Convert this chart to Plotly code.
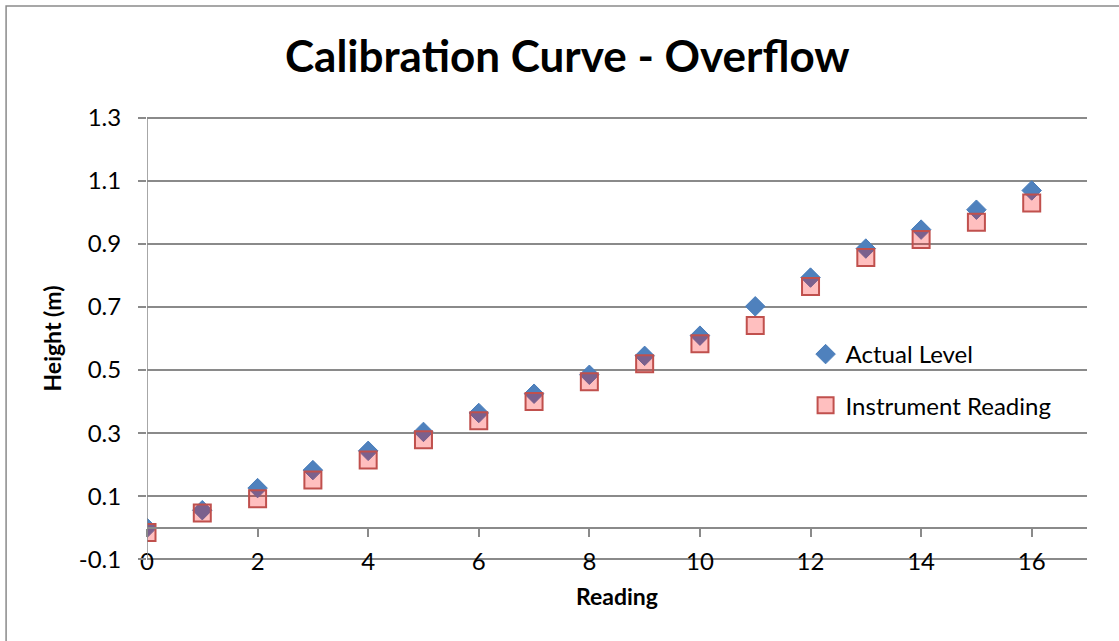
import plotly.graph_objects as go

# ---- data ----
readings = list(range(17))
actual_level = [0.000, 0.056, 0.126, 0.183, 0.244, 0.304, 0.364, 0.425, 0.485,
                0.545, 0.609, 0.702, 0.793, 0.885, 0.945, 1.008, 1.069]
instrument_reading = [-0.015, 0.047, 0.092, 0.152, 0.215, 0.279, 0.339, 0.400, 0.463,
                      0.520, 0.583, 0.641, 0.765, 0.857, 0.914, 0.968, 1.029]

y_ticks = [-0.1, 0.1, 0.3, 0.5, 0.7, 0.9, 1.1, 1.3]
y_tick_labels = ["-0.1", "0.1", "0.3", "0.5", "0.7", "0.9", "1.1", "1.3"]
x_ticks = [0, 2, 4, 6, 8, 10, 12, 14, 16]
x_tick_labels = ["0", "2", "4", "6", "8", "10", "12", "14", "16"]

FONT = "Lato"
GRID = "#8a8a8a"

fig = go.Figure()
fig.add_trace(go.Scatter(
    x=readings, y=actual_level, mode="markers", name="Actual Level",
    marker=dict(symbol="diamond", size=15, color="#4F81BD",
                line=dict(color="#4A7EBB", width=1)),
    legendgroup="a",
))
fig.add_trace(go.Scatter(
    x=readings, y=instrument_reading, mode="markers", name="Instrument Reading",
    marker=dict(symbol="square", size=17, color="rgba(255,0,0,0.25)",
                line=dict(color="#C0504D", width=2)),
    legendgroup="b",
))
# invisible trace carrying the axis line drawn at y = 0
fig.add_trace(go.Scatter(x=[0, 17], y=[0, 0], xaxis="x2", mode="lines",
                         line=dict(width=0), hoverinfo="skip", showlegend=False))

Y_RANGE = [-0.105, 1.305]
T, B = 116, 80
plot_h = 641 - T - B
frac0 = (0 - Y_RANGE[0]) / (Y_RANGE[1] - Y_RANGE[0])

def py(pix):
    """pixel row -> paper fraction"""
    return (641 - B - pix) / plot_h

fig.update_layout(
    width=1119, height=641,
    margin=dict(l=147, r=32, t=T, b=B),
    paper_bgcolor="white", plot_bgcolor="white",
    font=dict(family=FONT, size=24, color="black"),
    title=dict(text="Calibration Curve - Overflow", x=0.507, xref="container",
               xanchor="center", y=1 - 57 / 641, yanchor="middle",
               font=dict(family=FONT, size=44, weight="bold", color="black")),
    xaxis=dict(range=[0, 17], tickvals=x_ticks, ticktext=x_tick_labels,
               showgrid=False, zeroline=False, showline=False, ticks="",
               ticklabelstandoff=-16, tickfont=dict(size=24),
               title=dict(text="Reading", standoff=14,
                          font=dict(family=FONT, size=23, weight="bold"))),
    xaxis2=dict(range=[0, 17], overlaying="x", anchor="free",
                position=frac0, side="bottom",
                tickvals=x_ticks, showticklabels=False, ticks="outside",
                ticklen=8, tickwidth=1.5, tickcolor=GRID,
                showline=True, linecolor=GRID, linewidth=1.5,
                showgrid=False, zeroline=False),
    yaxis=dict(range=Y_RANGE, tickvals=y_ticks, ticktext=y_tick_labels,
               showgrid=True, gridcolor=GRID, gridwidth=1.5,
               zeroline=False, showline=False,
               ticks="outside", ticklen=8, tickwidth=1.5, tickcolor=GRID,
               ticklabelstandoff=12, tickfont=dict(size=24),
               title=dict(text="Height (m)", standoff=10,
                          font=dict(family=FONT, size=23, weight="bold"))),
    legend=dict(x=(806 - 147) / 940.6, y=py(332),
                xanchor="left", yanchor="top", bgcolor="rgba(0,0,0,0)",
                font=dict(family=FONT, size=24), itemwidth=30,
                traceorder="grouped", tracegroupgap=17),
    showlegend=True,
    shapes=[
        # vertical value-axis line at x = 0, spanning the gridded area
        dict(type="line", xref="x", yref="y", x0=0, x1=0,
             y0=y_ticks[0], y1=y_ticks[-1],
             line=dict(color=GRID, width=1.5)),
        dict(type="rect", xref="paper", yref="paper",
             x0=(6 - 147) / 940.6, x1=(1125 - 147) / 940.6,
             y0=py(650), y1=py(6),
             line=dict(color="#8a8a8a", width=1.5), layer="below"),
    ],
)

fig.write_html("out.html")
